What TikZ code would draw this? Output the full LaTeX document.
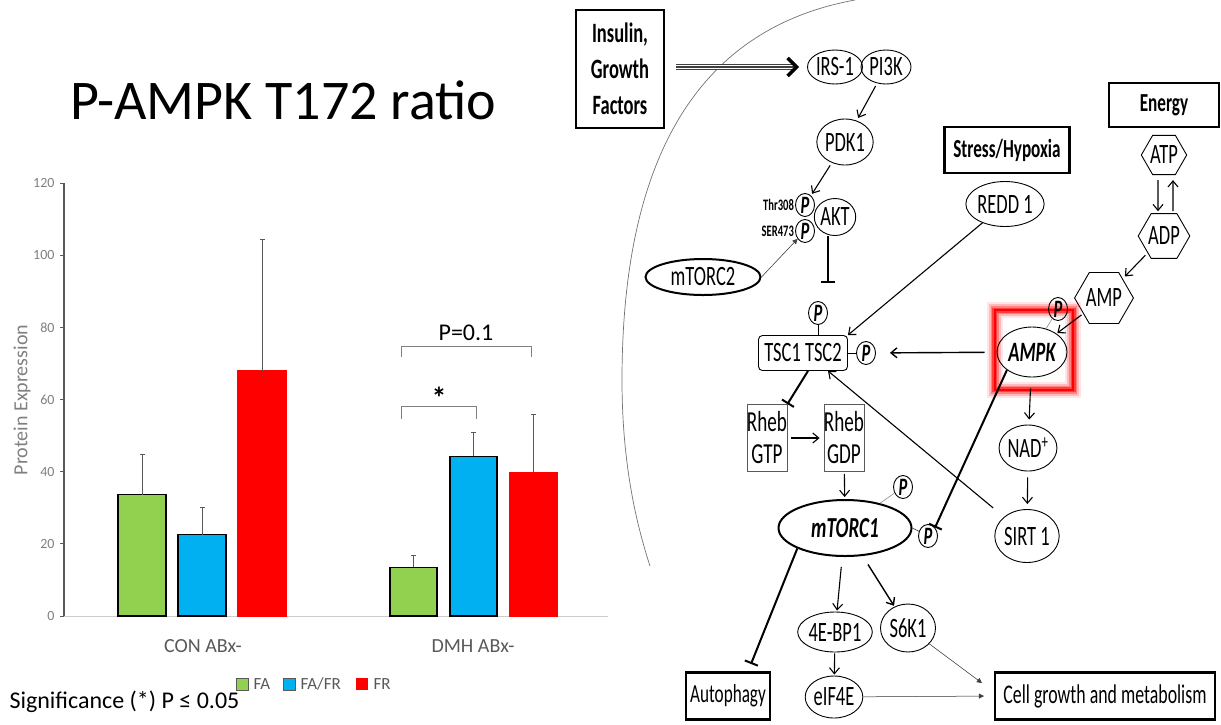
\documentclass[tikz,border=0pt]{standalone}
\usepackage{fontspec}
\setmainfont{Carlito}
\newfontfamily\pwfont{Carlito}[FakeStretch=0.66]
\usepackage{tikz}
\usetikzlibrary{arrows.meta,shapes.geometric,calc}
\definecolor{barGreen}{HTML}{92D050}
\definecolor{barBlue}{HTML}{00B0F0}
\definecolor{barRed}{HTML}{FF0000}
\definecolor{axGray}{HTML}{595959}
\definecolor{tickGray}{HTML}{808080}
\newcommand{\fsz}[1]{\fontsize{#1}{#1}\selectfont}

\begin{document}
\begin{tikzpicture}[x=1pt,y=-1pt,
    ell/.style={ellipse,draw,line width=0.9pt,inner sep=0pt,font=\pwfont\fsz{28}},
    pcirc/.style={ellipse,draw,line width=0.9pt,inner sep=0pt,minimum width=19pt,minimum height=23pt,font=\pwfont\bfseries\itshape\fsz{25}},
    hexa/.style={regular polygon,regular polygon sides=6,draw,line width=0.9pt,inner sep=0pt,minimum size=45pt,font=\pwfont\fsz{28}},
    bbox/.style={rectangle,draw,line width=2.2pt,inner sep=0pt,font=\pwfont\bfseries\fsz{26}},
    rbox/.style={rectangle,draw=black!65,line width=0.8pt,inner sep=0pt,minimum width=40pt,minimum height=67pt,align=center,font=\pwfont\fontsize{29}{32}\selectfont},
    arr/.style={-{Straight Barb[length=6pt,width=10pt]},line width=1.1pt},
    tarr/.style={-{Triangle[length=5pt,width=5pt]},line width=0.5pt,draw=black!75,fill=black!75},
    inh/.style={-{Bar[width=14pt,line width=2pt]},line width=2pt},
    tripleshaft/.style={line width=6pt,draw=black!75,postaction={draw,white,line width=3.6pt},postaction={draw,black!75,line width=1.2pt}},
  ]
  \useasboundingbox[fill=white] (0,0) rectangle (1221,724);

  % bar chart
  \node[font=\fsz{56}] (title) at (283,100) {P-AMPK T172 ratio};
  \begin{scope}[shift={(0,616)},y=3.608pt]
    \draw[black!20,line width=1pt] (64,0) -- (608,0);
    \draw[axGray,line width=1.3pt] (64,0) -- (64,120);
    \foreach \v in {0,20,...,120}{
      \draw[axGray,line width=1pt] (60,\v) -- (64,\v);
      \node[anchor=east,text=tickGray,font=\fsz{14}] (tick\v) at (58,\v) {\v};
    }
    \foreach \xl/\xr/\val/\err/\col/\edge in {118/166/33.6/44.8/barGreen/black,178/226/22.5/30.2/barBlue/black,238/286/68/104.4/barRed/barRed,
                                            390/437/13.5/16.8/barGreen/black,450/497/44.3/51/barBlue/black,510/557/39.8/55.8/barRed/barRed}{
      \pgfmathsetmacro\xc{(\xl+\xr)/2}
      \filldraw[fill=\col,draw=\edge,line width=1.2pt] (\xl,0) rectangle (\xr,\val);
      \draw[axGray,line width=0.8pt] (\xc,\val) -- (\xc,\err) ++(-2.5,0) -- ++(5,0);
    }
    \draw[black!50,line width=0.9pt] (401,71.8) -- (401,74.8) -- (531,74.8) -- (531,71.8);
    \node[font=\fsz{24}] (pval) at (466,78.4) {P=0.1};
    \draw[black!50,line width=0.9pt] (401,54.6) -- (401,58.2) -- (476,58.2) -- (476,54.6);
    \node[font=\bfseries\fsz{30}] (star) at (439,60.5) {*};
  \end{scope}
  \node[rotate=90,text=tickGray,font=\fsz{20}] (ylab) at (22,400) {Protein Expression};
  \node[text=axGray,font=\fsz{20}] (con) at (203,646) {CON ABx-};
  \node[text=axGray,font=\fsz{20}] (dmh) at (473,646) {DMH ABx-};
  \filldraw[fill=barGreen,draw=axGray,line width=1pt] (236,678) rectangle (248,690);
  \node[anchor=west,text=axGray,font=\fsz{17}] (lfa) at (250,684) {FA};
  \filldraw[fill=barBlue,draw=axGray,line width=1pt] (283,678) rectangle (295,690);
  \node[anchor=west,text=axGray,font=\fsz{17}] (lfafr) at (297,684) {FA/FR};
  \fill[barRed] (356,678) rectangle (368,690);
  \node[anchor=west,text=axGray,font=\fsz{17}] (lfr) at (370,684) {FR};
  \node[anchor=west,font=\fsz{24}] (sig) at (6,702) {Significance (*) P ≤ 0.05};

  % pathway
  \draw[black!55,line width=0.7pt] (855,0) .. controls (690,30) and (622,170) .. (622,380) .. controls (622,460) and (635,520) .. (650,566);

  \node[bbox,minimum width=88pt,minimum height=118pt,align=center,font=\pwfont\bfseries\fontsize{28}{36}\selectfont] (ins) at (620,69) {Insulin,\\Growth\\Factors};
  \node[ell,minimum width=55pt,minimum height=34pt] (irs) at (835,67) {IRS-1};
  \node[ell,minimum width=50pt,minimum height=34pt] (pik) at (886,67) {PI3K};
  \node[ell,minimum width=53pt,minimum height=46pt] (pdk) at (845,142) {PDK1};
  \node[ell,minimum width=37pt,minimum height=37pt] (akt) at (835,217) {AKT};
  \node[pcirc] (pthr) at (805,205) {P};
  \node[pcirc] (pser) at (805,231) {P};
  \node[anchor=east,inner sep=1pt,font=\pwfont\bfseries\fsz{16}] (lthr) at (pthr.west) {Thr308};
  \node[anchor=east,inner sep=1pt,font=\pwfont\bfseries\fsz{16}] (lser) at (pser.west) {SER473};
  \node[ell,line width=2pt,minimum width=115pt,minimum height=36pt] (mtc2) at (703,277) {mTORC2};
  \node[draw,rounded corners=4pt,line width=0.9pt,minimum width=89pt,minimum height=35pt,inner sep=0pt,font=\pwfont\fsz{28}] (tsc) at (803,353) {TSC1 TSC2};
  \node[pcirc] (ptsct) at (818,313) {P};
  \node[pcirc] (ptscr) at (866,353) {P};
  \node[bbox,minimum width=125pt,minimum height=46pt] (stress) at (1007,150) {Stress/Hypoxia};
  \node[ell,minimum width=65pt,minimum height=45pt] (redd) at (1005,204) {REDD 1};
  \node[bbox,minimum width=110pt,minimum height=44pt] (energy) at (1164,105) {Energy};
  \node[hexa] (atp) at (1164,155) {ATP};
  \node[hexa] (adp) at (1164,236) {ADP};
  \node[hexa] (amp) at (1104,298) {AMP};
  \node[minimum width=78pt,minimum height=79pt] (glowbox) at (1034,350) {};
  \foreach \w/\o in {16/0.1,12/0.18,8/0.3,5/0.5}
    \draw[barRed,line width=\w pt,opacity=\o] (glowbox.south west) rectangle (glowbox.north east);
  \draw[barRed,line width=1.8pt] (glowbox.south west) rectangle (glowbox.north east);
  \node[ell,minimum width=70pt,minimum height=50pt,font=\pwfont\bfseries\itshape\fsz{28}] (ampk) at (1032,352) {AMPK};
  \node[pcirc] (pampk) at (1058,309) {P};
  \node[ell,minimum width=46pt,minimum height=46pt] (nad) at (1028,448) {NAD\textsuperscript{+}};
  \node[ell,minimum width=61pt,minimum height=53pt] (sirt) at (1027,536) {SIRT 1};
  \node[rbox] (gtp) at (767,438) {Rheb\\GTP};
  \node[rbox] (gdp) at (844,438) {Rheb\\GDP};
  \node[ell,line width=2pt,minimum width=133pt,minimum height=56pt,font=\pwfont\bfseries\itshape\fsz{29}] (mtc1) at (845,528) {mTORC1};
  \node[pcirc] (pmt1) at (903,487) {P};
  \node[pcirc] (pmt2) at (928,536) {P};
  \node[ell,minimum width=62pt,minimum height=40pt] (ebp) at (835,632) {4E-BP1};
  \node[ell,minimum width=55pt,minimum height=48pt] (s6k) at (908,628) {S6K1};
  \node[ell,minimum width=48pt,minimum height=42pt] (eif) at (834,697) {eIF4E};
  \node[bbox,font=\pwfont\fsz{26},minimum width=84pt,minimum height=47pt] (auto) at (728,696) {Autophagy};
  \node[bbox,font=\pwfont\fsz{27},minimum width=220pt,minimum height=47pt] (cell) at (1105,696) {Cell growth and metabolism};

  % connectors
  \coordinate (tripS) at ($(ins.east |- irs.west)+(11,0)$);
  \coordinate (tripE) at ($(irs.west)+(-13,0)$);
  \draw[tripleshaft] (tripS) -- (tripE);
  \draw[line width=3pt,-{Straight Barb[length=9pt,width=18pt,line width=3.5pt]},shorten >=8pt] (tripE) -- (irs.west);
  \draw[arr,shorten <=3pt,shorten >=3pt] (pik) -- (pdk);
  \draw[arr,shorten <=3pt,shorten >=2pt] (pdk) -- (pthr);
  \draw[tarr] (mtc2.east) -- (pser);
  \draw[inh,shorten >=18pt] ([xshift=-7pt]akt.south) -- ([xshift=-7pt]akt.south |- ptsct.north);
  \draw (ptsct) -- (ptsct |- tsc.north);
  \draw (tsc.east) -- (ptscr);
  \draw[arr] (redd) -- (tsc.north east);
  \draw[arr,line width=1.4pt,shorten <=12pt,shorten >=14pt] (ampk) -- (ptscr);
  \draw[inh] (ampk.south west) -- (pmt2.north east);
  \draw[arr,shorten <=14pt] (sirt) -- ([xshift=25pt]tsc.south);
  \draw[inh] ([xshift=5pt]tsc.south) -- (gtp.north east);
  \draw[arr,shorten <=4pt,shorten >=4pt] (gtp) -- (gdp);
  \draw[arr,shorten <=2pt,shorten >=2pt] (gdp) -- (mtc1);
  \draw[black!45,line width=0.6pt] (mtc1) -- (pmt1);
  \draw (mtc1.east) -- (pmt2);
  \draw[black!45,line width=0.6pt] (ampk) -- (pampk);
  \draw[arr,shorten <=2pt,shorten >=1pt] (amp) -- (ampk);
  \draw[arr,shorten <=3pt,shorten >=3pt] (adp) -- (amp);
  \draw[arr,shorten <=5pt,shorten >=2pt] ([xshift=-6pt]atp.south) -- ([xshift=-6pt]adp.north);
  \draw[arr,shorten <=2pt,shorten >=5pt] ([xshift=9pt]adp.north) -- ([xshift=9pt]atp.south);
  \draw[arr,shorten <=11pt,shorten >=5pt] (ampk) -- (nad);
  \draw[arr,shorten <=6pt,shorten >=5pt] (nad) -- (sirt);
  \draw[inh,shorten >=8pt] (mtc1.south west) -- ([xshift=20pt]auto.north);
  \draw[arr,shorten <=10pt,shorten >=1pt] (mtc1) -- (ebp);
  \draw[arr,line width=1.4pt,shorten <=10pt,shorten >=1pt] (mtc1) -- (s6k);
  \draw[arr,shorten <=1pt,shorten >=1pt] (ebp) -- (eif);
  \draw[tarr,shorten >=10pt] (eif) -- (cell.west);
  \draw[tarr] (s6k) -- ($(cell.west)+(-12,-13)$);
\end{tikzpicture}
\end{document}
